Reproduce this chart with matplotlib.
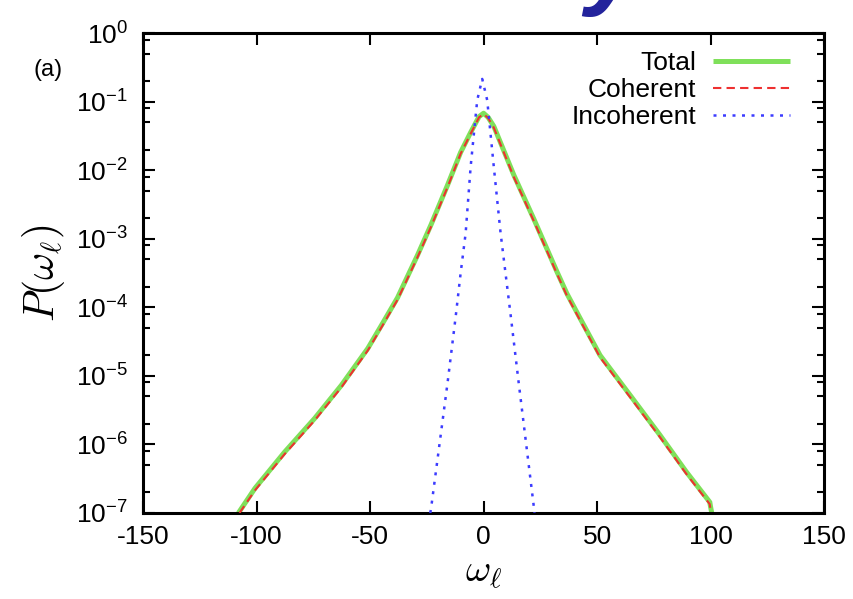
import numpy as np
import matplotlib
matplotlib.use("Agg")
import matplotlib.pyplot as plt
from matplotlib.ticker import LogLocator, NullFormatter, LogFormatterSciNotation

plt.rcParams['font.family'] = ['Liberation Sans', 'DejaVu Sans']
plt.rcParams['mathtext.fontset'] = 'custom'
plt.rcParams['mathtext.rm'] = 'Liberation Sans'
plt.rcParams['mathtext.it'] = 'Liberation Sans:italic'
plt.rcParams['mathtext.default'] = 'it'

# Frequency distribution P(omega_l): values given as log10 P
omega_total = [-108.0, -100.7, -87.6, -74.4, -62.7, -51.0, -44.4, -37.9, -29.1,
               -23.2, -15.9, -10.1, -5.7, -2.0, 0.0, 2.0, 4.5, 13.3, 22.1, 32.3,
               36.7, 42.5, 51.3, 64.5, 77.6, 89.3, 99.6, 100.5]
logp_total = [-7.0, -6.64, -6.11, -5.62, -5.14, -4.60, -4.23, -3.86, -3.24,
              -2.80, -2.22, -1.74, -1.45, -1.22, -1.17, -1.23, -1.36, -2.07, -2.71, -3.48,
              -3.80, -4.16, -4.70, -5.28, -5.86, -6.40, -6.84, -7.0]

omega_coh = [-107.5, -100.7, -87.6, -74.4, -62.7, -51.0, -44.4, -37.9, -29.1,
             -23.2, -15.9, -10.1, -5.7, -2.0, 0.0, 2.0, 4.5, 13.3, 22.1, 32.3,
             36.7, 42.5, 51.3, 64.5, 77.6, 89.3, 99.6, 100.2]
logp_coh = [-7.0, -6.67, -6.14, -5.65, -5.17, -4.63, -4.26, -3.89, -3.27,
            -2.83, -2.25, -1.76, -1.47, -1.23, -1.18, -1.24, -1.38, -2.10, -2.74, -3.51,
            -3.83, -4.19, -4.73, -5.31, -5.89, -6.43, -6.87, -7.0]

omega_inc = [-23.5, -23.2, -15.9, -12.3, -10.1, -7.9, -5.7, -2.8, -0.6,
             1.6, 4.5, 7.5, 11.8, 15.5, 22.1, 22.4]
logp_inc = [-7.0, -6.95, -5.11, -4.14, -3.50, -2.92, -1.95, -0.98, -0.67,
            -0.98, -1.95, -2.92, -4.08, -5.11, -6.90, -7.0]

x_ticks = [-150, -100, -50, 0, 50, 100, 150]

fig = plt.figure(figsize=(8.54, 5.99), dpi=100)
ax = fig.add_axes([0.1675, 0.1436, 0.7975, 0.8013])

ax.plot(omega_total, 10 ** np.array(logp_total), color='#7fe05a', lw=3.6,
        solid_capstyle='butt', label='Total', zorder=2)
ax.plot(omega_coh, 10 ** np.array(logp_coh), color='#ee3030', lw=1.5,
        dashes=(4, 2.5), label='Coherent', zorder=3)
ax.plot(omega_inc, 10 ** np.array(logp_inc), color='#3c3cff', lw=1.8,
        dashes=(1.2, 2.6), label='Incoherent', zorder=3)

ax.set_yscale('log')
ax.set_xlim(-150, 150)
ax.set_ylim(1e-7, 1)
ax.set_xticks(x_ticks)
ax.set_xticklabels([str(v) for v in x_ticks])
ax.yaxis.set_major_locator(LogLocator(base=10, numticks=20))
ax.yaxis.set_major_formatter(LogFormatterSciNotation())
ax.yaxis.set_minor_locator(LogLocator(base=10, subs=(0.2, 0.5, 0.8), numticks=20))
ax.yaxis.set_minor_formatter(NullFormatter())

for s in ax.spines.values():
    s.set_linewidth(2.2)
ax.tick_params(which='major', direction='in', length=8.5, width=1.5,
               top=True, right=True, labelsize=19, pad=9)
ax.tick_params(which='minor', direction='in', length=5, width=1.5,
               top=False, right=True)
ax.tick_params(axis='y', which='major', pad=11)

ax.set_xlabel(r'$\omega_\ell$', fontsize=28, math_fontfamily='cm', labelpad=4)
ax.set_ylabel(r'$P(\omega_\ell)$', fontsize=30, math_fontfamily='cm', labelpad=6)

leg = ax.legend(loc='upper right', bbox_to_anchor=(0.977, 1.0), frameon=False,
                markerfirst=False, fontsize=19, handlelength=2.9,
                handletextpad=0.65, labelspacing=0.1, borderaxespad=0.3)

fig.text(0.056, 0.883, '(a)', fontsize=17, ha='center', va='center')
fig.text(0.685, 1.006, 'y', fontsize=72, fontweight='bold', fontstyle='italic',
         color='#23239c', ha='left', va='baseline')

fig.savefig('out.png', dpi=100)
